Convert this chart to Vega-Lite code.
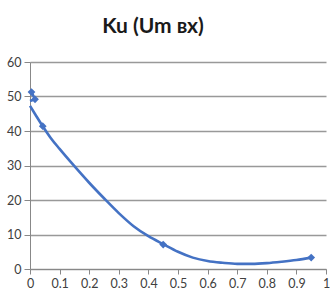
{
  "$schema": "https://vega.github.io/schema/vega-lite/v6.json",
  "width": 296,
  "height": 207,
  "autosize": {"type": "none"},
  "padding": {"left": 30, "top": 62, "right": 10, "bottom": 29},
  "background": "white",
  "title": {"text": "Ku (Um вх)", "font": "Lato", "fontSize": 21, "fontWeight": "bold", "color": "#1a1a1a", "anchor": "middle", "dx": -25, "offset": 19},
  "config": {"view": {"stroke": null}},
  "encoding": {
    "x": {"field": "x", "type": "quantitative", "scale": {"domain": [0, 1], "nice": false},
      "axis": {"values": [0, 0.1, 0.2, 0.3, 0.4, 0.5, 0.6, 0.7, 0.8, 0.9, 1], "format": "~g", "grid": false, "title": null,
        "domainColor": "#888888", "tickColor": "#888888", "tickSize": 5, "labelFont": "Lato", "labelFontSize": 12.5, "labelColor": "#404040", "labelPadding": 3, "labelFlush": false, "labelOverlap": false}},
    "y": {"field": "y", "type": "quantitative", "scale": {"domain": [0, 60], "nice": false},
      "axis": {"values": [0, 10, 20, 30, 40, 50, 60], "title": null, "grid": true, "gridColor": "#999999", "gridWidth": 1.3, "labelOverlap": false,
        "domainColor": "#888888", "tickColor": "#888888", "tickSize": 6, "labelFont": "Lato", "labelFontSize": 12.5, "labelColor": "#404040", "labelPadding": 3}}
  },
  "layer": [
    {
      "data": {"values": [
        {"x": 0, "y": 47.3}, {"x": 0.02, "y": 44.5}, {"x": 0.043, "y": 41.4}, {"x": 0.07, "y": 38.0},
        {"x": 0.1, "y": 34.8}, {"x": 0.15, "y": 29.8}, {"x": 0.2, "y": 25.0}, {"x": 0.25, "y": 20.5},
        {"x": 0.3, "y": 16.2}, {"x": 0.35, "y": 12.4}, {"x": 0.4, "y": 9.5}, {"x": 0.45, "y": 7.2},
        {"x": 0.5, "y": 5.0}, {"x": 0.55, "y": 3.3}, {"x": 0.6, "y": 2.3}, {"x": 0.65, "y": 1.8},
        {"x": 0.7, "y": 1.5}, {"x": 0.75, "y": 1.5}, {"x": 0.8, "y": 1.7}, {"x": 0.85, "y": 2.1},
        {"x": 0.9, "y": 2.6}, {"x": 0.95, "y": 3.3}
      ]},
      "mark": {"type": "line", "color": "#4472C4", "strokeWidth": 2.6, "interpolate": "monotone"}
    },
    {
      "data": {"values": [
        {"x": 0.005, "y": 51.3, "o": 1}, {"x": 0.017, "y": 49.2, "o": 2}, {"x": 0.0, "y": 48.7, "o": 3}
      ]},
      "mark": {"type": "line", "color": "#4472C4", "strokeWidth": 2.6},
      "encoding": {
        "order": {"field": "o", "type": "quantitative"}
      }
    },
    {
      "data": {"values": [
        {"x": 0.005, "y": 51.3}, {"x": 0.017, "y": 49.2}, {"x": 0.043, "y": 41.4}, {"x": 0.45, "y": 7.1}, {"x": 0.95, "y": 3.3}
      ]},
      "mark": {"type": "point", "shape": "diamond", "filled": true, "color": "#4472C4", "size": 60, "opacity": 1}
    }
  ]
}
